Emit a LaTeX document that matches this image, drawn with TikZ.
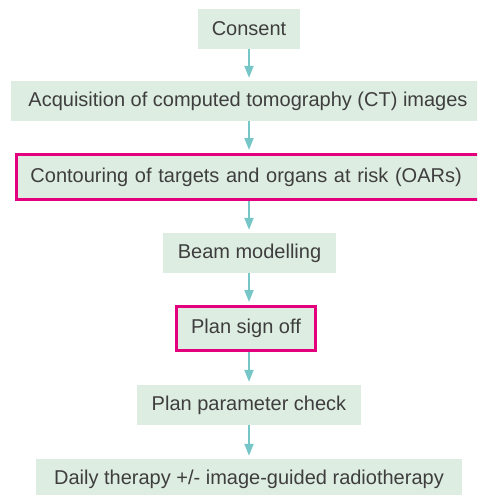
\documentclass[tikz,border=0pt]{standalone}
\usepackage{fontspec}
\setmainfont{Liberation Sans}
\usepackage{xcolor}
\usetikzlibrary{arrows.meta,positioning}

\definecolor{boxgreen}{RGB}{222,237,225}
\definecolor{flowteal}{RGB}{118,198,200}
\definecolor{keypink}{RGB}{228,0,124}
\definecolor{txtgrey}{RGB}{62,62,62}

\begin{document}
\begin{tikzpicture}[x=1pt, y=-1pt,
  stage/.style={fill=boxgreen, text=txtgrey, inner sep=0pt, minimum height=40pt,
    font=\fontsize{20}{24}\selectfont},
  keystage/.style={stage, draw=keypink, line width=3pt},
  flow/.style={-{Triangle[width=9pt,length=12pt]}, line width=2pt, color=flowteal, shorten >=3pt}]

\useasboundingbox (0,0) rectangle (477,495);
\clip (0,0) rectangle (477,495);

\node[stage, minimum width=102pt] (consent) at (249,29) {Consent};
\node[stage, minimum width=474pt] (ct) at (248,101) {Acquisition of computed tomography (CT) images};
\node[keystage, minimum height=45pt, text width=456pt, inner xsep=14.5pt, anchor=west, align=left] (contour) at (14.5,177) {Contouring of targets and organs at risk (OARs)};
\node[stage, minimum width=173pt] (beam) at (249.5,253) {Beam modelling};
\node[keystage, minimum width=139pt, minimum height=44pt] (signoff) at (246,328.5) {Plan sign off};
\node[stage, minimum width=224pt] (check) at (249,405) {Plan parameter check};
\node[stage, minimum width=426pt] (daily) at (249,479) {Daily therapy +/- image-guided radiotherapy};

\draw[flow] (consent.south) -- (consent.south |- ct.north);
\draw[flow] (consent.south |- ct.south) -- (consent.south |- contour.north);
\draw[flow] (consent.south |- contour.south) -- (consent.south |- beam.north);
\draw[flow] (consent.south |- beam.south) -- (consent.south |- signoff.north);
\draw[flow] (consent.south |- signoff.south) -- (consent.south |- check.north);
\draw[flow] (consent.south |- check.south) -- (consent.south |- daily.north);

\end{tikzpicture}
\end{document}
